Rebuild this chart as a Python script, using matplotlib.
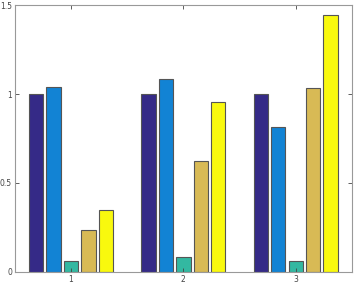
import numpy as np
import matplotlib.pyplot as plt

# values per group (rows) and series (columns)
groups = [1, 2, 3]
series1 = [1.0, 1.0, 1.0]
series2 = [1.04, 1.085, 0.815]
series3 = [0.062, 0.085, 0.062]
series4 = [0.236, 0.624, 1.034]
series5 = [0.348, 0.953, 1.444]

data = [series1, series2, series3, series4, series5]
colors = ['#352a87', '#1283d4', '#33b8a1', '#d8ba55', '#f9f90e']

fig = plt.figure(figsize=(3.54, 2.85), dpi=100)
ax = fig.add_axes([0.042, 0.046, 0.952, 0.936])

x = np.array(groups)
offsets = [-0.31, -0.155, 0.0, 0.155, 0.31]
for vals, off, c in zip(data, offsets, colors):
    ax.bar(x + off, vals, width=0.128, color=c, edgecolor='#555555', linewidth=0.8)

ax.set_xlim(0.5, 3.5)
ax.set_ylim(0, 1.5)
ax.set_xticks(groups)
ax.set_yticks([0, 0.5, 1, 1.5])
ax.set_yticklabels(['0', '0.5', '1', '1.5'])
ax.tick_params(direction='in', length=3, width=0.6, colors='#444444',
               labelsize=5.5, top=True, right=True, pad=2)
for s in ax.spines.values():
    s.set_color('#999999')
    s.set_linewidth(0.8)

fig.savefig('out.png', dpi=100)
